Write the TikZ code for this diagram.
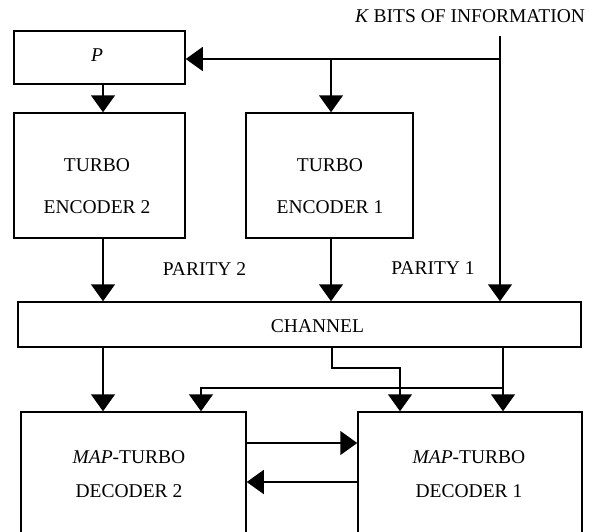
\documentclass[tikz,border=0pt]{standalone}
\usepackage{fontspec}
\setmainfont{Liberation Serif}
\usetikzlibrary{arrows.meta,calc}
\begin{document}
\begin{tikzpicture}[x=1pt,y=-1pt,
  box/.style={draw, line width=1.5pt, rectangle, inner sep=0pt},
  arr/.style={-{Triangle[width=24pt,length=17pt]}, line width=1.5pt},
  lbl/.style={inner sep=0pt, align=center, font=\fontsize{19.5}{23}\selectfont},
  two/.style={lbl, font=\fontsize{19.5}{42.5}\selectfont},
  twod/.style={lbl, font=\fontsize{19.5}{34.5}\selectfont}]
\useasboundingbox (0,0) rectangle (594,531);
% blocks
\node[box, minimum width=171pt, minimum height=53pt] (P) at (99.5,57.5) {};
\node[box, minimum width=171pt, minimum height=125pt] (te2) at (99.5,175.5) {};
\node[box, minimum width=167pt, minimum height=125pt] (te1) at (329.5,175.5) {};
\node[box, minimum width=563pt, minimum height=45pt] (ch) at (299.5,324.5) {};
\node[box, minimum width=225pt, minimum height=122pt] (dec2) at (133.5,473) {};
\node[box, minimum width=224pt, minimum height=122pt] (dec1) at (470,473) {};
% texts
\node[lbl] (Pt) at (97,55) {\textit{P}};
\node[two] (te2t) at (97,186) {TURBO\\ENCODER 2};
\node[two] (te1t) at (330,186) {TURBO\\ENCODER 1};
\node[lbl] (cht) at (317.5,326) {CHANNEL};
\node[twod] (dec2t) at (129,474) {\textit{MAP}-TURBO\\DECODER 2};
\node[twod] (dec1t) at (469,474) {\textit{MAP}-TURBO\\DECODER 1};
\node[lbl] (kb) at (470,16) {\textit{K} BITS OF INFORMATION};
\node[lbl] (p2) at (204.5,269) {PARITY 2};
\node[lbl] (p1) at (433,268.5) {PARITY 1};
% coordinates
\coordinate (kin) at (500,36);
\coordinate (a) at (103,0);
\coordinate (b) at (331,0);
\coordinate (b2) at (332,0);
\coordinate (c) at (503,0);
\coordinate (d) at (400,0);
\coordinate (e) at (201,0);
% encoder side
\draw[arr] (kin) -- (kin |- ch.north);
\draw[arr] (500,59) -- (P.east |- 0,59);
\draw[arr] (b |- 0,59) -- (te1.north -| b);
\draw[arr] (P.south -| a) -- (te2.north -| a);
\draw[arr] (te2.south -| a) -- (ch.north -| a);
\draw[arr] (te1.south -| b) -- (ch.north -| b);
% decoder side
\draw[arr] (ch.south -| a) -- (dec2.north -| a);
\draw[arr] (ch.south -| b2) -- (b2 |- 0,368) -| (dec1.north -| d);
\draw[arr] (ch.south -| c) -- (dec1.north -| c);
\draw[arr] (c |- 0,388) -| (dec2.north -| e);
\draw[arr] (dec2.east |- 0,443) -- (dec1.west |- 0,443);
\draw[arr] (dec1.west |- 0,482) -- (dec2.east |- 0,482);
\end{tikzpicture}
\end{document}
